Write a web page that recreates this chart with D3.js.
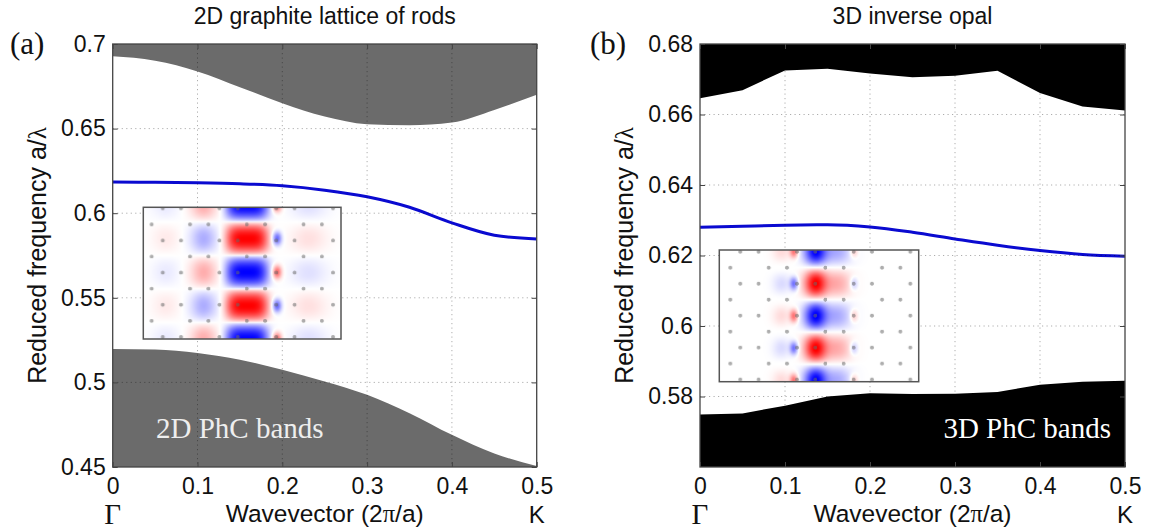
<!DOCTYPE html>
<html>
<head>
<meta charset="utf-8">
<script src="https://cdn.jsdelivr.net/npm/d3@7"></script>
<style>
  body { margin: 0; background: #fff; }
  svg { display: block; }
</style>
</head>
<body>
<svg id="fig" width="1150" height="529"></svg>
<script>
// Wavevector samples along Γ–K (units of 2π/a)
const wavevector = [0, 0.05, 0.1, 0.15, 0.2, 0.25, 0.3, 0.35, 0.4, 0.45, 0.5];
const xTicks = [0, 0.1, 0.2, 0.3, 0.4, 0.5];
const xTickLabels = ["0", "0.1", "0.2", "0.3", "0.4", "0.5"];

// (a) 2D graphite lattice of rods: band edges and the guided defect mode
const upperBand2D  = [0.6927, 0.6901, 0.6838, 0.6745, 0.6650, 0.6571, 0.6526, 0.6520, 0.6536, 0.6610, 0.6700];
const defectMode2D = [0.6184, 0.6183, 0.6180, 0.6174, 0.6162, 0.6136, 0.6097, 0.6035, 0.5943, 0.5870, 0.5848];
const lowerBand2D  = [0.5198, 0.5194, 0.5174, 0.5134, 0.5075, 0.5006, 0.4927, 0.4818, 0.4690, 0.4580, 0.4506];
const yTicks2D = [0.45, 0.5, 0.55, 0.6, 0.65, 0.7];
const yTickLabels2D = ["0.45", "0.5", "0.55", "0.6", "0.65", "0.7"];

// (b) 3D inverse opal: band edges and the guided defect mode
const upperBand3D  = [0.6646, 0.6669, 0.6725, 0.6730, 0.6716, 0.6706, 0.6710, 0.6724, 0.6661, 0.6623, 0.6611];
const defectMode3D = [0.6280, 0.6283, 0.6286, 0.6287, 0.6281, 0.6266, 0.6247, 0.6229, 0.6214, 0.6203, 0.6198];
const lowerBand3D  = [0.5749, 0.5752, 0.5774, 0.5800, 0.5809, 0.5807, 0.5808, 0.5813, 0.5833, 0.5842, 0.5845];
const yTicks3D = [0.58, 0.6, 0.62, 0.64, 0.66, 0.68];
const yTickLabels3D = ["0.58", "0.6", "0.62", "0.64", "0.66", "0.68"];

const SANS = "'Liberation Sans', Arial, sans-serif";
const SERIF = "'Liberation Serif', 'Times New Roman', serif";

const panels = [
  {
    tag: "(a)", tagX: 10, title: "2D graphite lattice of rods",
    left: 112.7, right: 536.7, top: 44, bottom: 467,
    yDomain: [0.45, 0.7], yTicks: yTicks2D, yLabels: yTickLabels2D,
    upper: upperBand2D, mode: defectMode2D, lower: lowerBand2D,
    bandFill: "#6b6b6b", curve: d3.curveMonotoneX,
    bandText: "2D PhC bands", bandTextX: 156, bandTextAnchor: "start", bandTextFill: "#eeeeee",
    yLabelX: 46,
    inset: {
      x: 143.3, y: 207.3, w: 197.7, h: 131.7,
      // field lobes across the guide: [centre, amplitude, width, exponent, vertical sharpness]
      lobes: [[103.4, 1.0, 21, 4, 0.8], [60, -0.32, 13, 2, 0.9], [133.4, -0.6, 4.5, 2, 5],
              [165, 0.12, 18, 2, 1], [22, 0.08, 14, 2, 1]],
      redY: 31, halfPeriod: 33.5,
      rowY0: 1, rowStep: 16.05, firstRowB: true,
      rowA: 46.7, rowB: 19.4
    }
  },
  {
    tag: "(b)", tagX: 590, title: "3D inverse opal",
    left: 700, right: 1125, top: 44, bottom: 467,
    yDomain: [0.56, 0.68], yTicks: yTicks3D, yLabels: yTickLabels3D,
    upper: upperBand3D, mode: defectMode3D, lower: lowerBand3D,
    bandFill: "#000000", curve: d3.curveLinear,
    bandText: "3D PhC bands", bandTextX: 1111, bandTextAnchor: "end", bandTextFill: "#ffffff",
    yLabelX: 633,
    inset: {
      x: 719.3, y: 250, w: 199.4, h: 131.7,
      lobes: [[96, 1.0, 11, 2, 1.0], [118, 0.32, 14, 2, 1.0], [74.4, -0.55, 4, 2, 5],
              [62, -0.14, 9, 2, 2], [134.4, -0.25, 4, 2, 5]],
      redY: 33.3, halfPeriod: 32.2,
      rowY0: 1.7, rowStep: 15.95, firstRowB: false,
      rowA: 21, rowB: 49.4
    }
  }
];

const svg = d3.select("#fig");

// diverging blue-white-red map for the mode field
const fieldColour = d3.scaleLinear()
  .domain([-1, 0, 1])
  .range([[0, 0, 255], [255, 255, 255], [255, 0, 0]])
  .clamp(true);

function fieldImage(ins) {
  const k = 2;
  const W = Math.round(ins.w * k), H = Math.round(ins.h * k);
  const cv = document.createElement("canvas");
  cv.width = W; cv.height = H;
  const ctx = cv.getContext("2d");
  const img = ctx.createImageData(W, H);
  for (let j = 0; j < H; j++) {
    const yy = j / k;
    const c = Math.cos(Math.PI * (yy - ins.redY) / ins.halfPeriod);
    for (let i = 0; i < W; i++) {
      const xx = i / k;
      let v = 0;
      for (const [cx, a, w, p, vp] of ins.lobes) {
        const s = Math.sign(c) * Math.pow(Math.abs(c), vp);
        v += a * s * Math.exp(-Math.pow(Math.abs(xx - cx) / w, p));
      }
      const rgb = fieldColour(v);
      const o = (j * W + i) * 4;
      img.data[o] = rgb[0]; img.data[o + 1] = rgb[1]; img.data[o + 2] = rgb[2]; img.data[o + 3] = 255;
    }
  }
  ctx.putImageData(img, 0, 0);
  // rods of the honeycomb lattice
  const period = 56.7, bond = 18.3;
  ctx.fillStyle = "rgba(105,105,105,0.55)";
  let row = 0;
  for (let yy = ins.rowY0; yy < ins.h + 1; yy += ins.rowStep, row++) {
    const isB = (row % 2 === 0) === ins.firstRowB;
    const start = isB ? ins.rowB : ins.rowA;
    for (let base = start - 3 * period; base < ins.w + period; base += period) {
      for (const xx of [base, base + bond]) {
        if (xx < 1 || xx > ins.w - 1) continue;
        ctx.beginPath();
        ctx.arc(xx * k, yy * k, 1.9 * k, 0, 2 * Math.PI);
        ctx.fill();
      }
    }
  }
  return cv.toDataURL();
}

panels.forEach((P, pi) => {
  const x = d3.scaleLinear().domain([0, 0.5]).range([P.left, P.right]);
  const y = d3.scaleLinear().domain(P.yDomain).range([P.bottom, P.top]);
  const g = svg.append("g");

  const clipId = "clip" + pi;
  g.append("clipPath").attr("id", clipId)
    .append("rect").attr("x", P.left).attr("y", P.top)
    .attr("width", P.right - P.left).attr("height", P.bottom - P.top);

  const plot = g.append("g").attr("clip-path", `url(#${clipId})`);
  const pts = (arr) => wavevector.map((k, i) => [k, arr[i]]);

  // photonic band regions above and below the gap
  plot.append("path")
    .datum(pts(P.upper))
    .attr("fill", P.bandFill)
    .attr("d", d3.area().curve(P.curve)
      .x(d => x(d[0])).y0(y(P.yDomain[1])).y1(d => y(d[1])));
  plot.append("path")
    .datum(pts(P.lower))
    .attr("fill", P.bandFill)
    .attr("d", d3.area().curve(P.curve)
      .x(d => x(d[0])).y0(y(P.yDomain[0])).y1(d => y(d[1])));

  // dotted grid
  const grid = g.append("g").attr("stroke", "rgba(0,0,0,0.32)")
    .attr("stroke-width", 1).attr("stroke-dasharray", "1.2,3.3");
  grid.selectAll("line.gx").data(xTicks.slice(1, -1)).join("line")
    .attr("x1", d => x(d)).attr("x2", d => x(d))
    .attr("y1", P.top).attr("y2", P.bottom);
  grid.selectAll("line.gy").data(P.yTicks.filter(v => v > P.yDomain[0] && v < P.yDomain[1])).join("line")
    .attr("x1", P.left).attr("x2", P.right)
    .attr("y1", d => y(d)).attr("y2", d => y(d));

  // defect-mode dispersion
  plot.append("path")
    .datum(pts(P.mode))
    .attr("fill", "none")
    .attr("stroke", "#0a0ad0")
    .attr("stroke-width", 3)
    .attr("d", d3.line().curve(d3.curveMonotoneX).x(d => x(d[0])).y(d => y(d[1])));

  // field-profile inset
  const ins = P.inset;
  g.append("rect").attr("x", ins.x).attr("y", ins.y).attr("width", ins.w).attr("height", ins.h)
    .attr("fill", "#fff");
  g.append("image").attr("x", ins.x).attr("y", ins.y).attr("width", ins.w).attr("height", ins.h)
    .attr("preserveAspectRatio", "none")
    .attr("href", fieldImage(ins));
  g.append("rect").attr("x", ins.x).attr("y", ins.y).attr("width", ins.w).attr("height", ins.h)
    .attr("fill", "none").attr("stroke", "#555").attr("stroke-width", 1.5);

  // band label
  g.append("text")
    .attr("x", P.bandTextX).attr("y", 438)
    .attr("text-anchor", P.bandTextAnchor)
    .attr("font-family", SERIF).attr("font-size", 29)
    .attr("fill", P.bandTextFill)
    .text(P.bandText);

  // axes with inward ticks on all four sides
  const bottomAxis = d3.axisBottom(x).tickValues(xTicks)
    .tickFormat((d, i) => xTickLabels[i]).tickSizeInner(-5).tickSizeOuter(0).tickPadding(11);
  const leftAxis = d3.axisLeft(y).tickValues(P.yTicks)
    .tickFormat((d, i) => P.yLabels[i]).tickSizeInner(-5).tickSizeOuter(0).tickPadding(7);
  const topAxis = d3.axisTop(x).tickValues(xTicks).tickFormat("").tickSizeInner(-5).tickSizeOuter(0);
  const rightAxis = d3.axisRight(y).tickValues(P.yTicks).tickFormat("").tickSizeInner(-5).tickSizeOuter(0);

  const styleAxis = sel => {
    sel.select(".domain").remove();
    sel.selectAll(".tick line").attr("stroke", "#444");
    sel.selectAll(".tick text").attr("fill", "#111")
      .attr("font-family", SANS).attr("font-size", 23);
  };
  g.append("g").attr("transform", `translate(0,${P.bottom})`).call(bottomAxis).call(styleAxis);
  g.append("g").attr("transform", `translate(${P.left},0)`).call(leftAxis).call(styleAxis);
  g.append("g").attr("transform", `translate(0,${P.top})`).call(topAxis).call(styleAxis);
  g.append("g").attr("transform", `translate(${P.right},0)`).call(rightAxis).call(styleAxis);

  // plot frame
  g.append("rect").attr("x", P.left).attr("y", P.top)
    .attr("width", P.right - P.left).attr("height", P.bottom - P.top)
    .attr("fill", "none").attr("stroke", "#444").attr("stroke-width", 1.3);

  // symmetry points
  g.append("text").attr("x", x(0)).attr("y", 524).attr("text-anchor", "middle")
    .attr("font-family", SERIF).attr("font-size", 29).attr("fill", "#111").text("Γ");
  g.append("text").attr("x", x(0.5)).attr("y", 523).attr("text-anchor", "middle")
    .attr("font-family", SANS).attr("font-size", 24).attr("fill", "#111").text("K");

  // axis titles
  const xl = g.append("text").attr("x", (P.left + P.right) / 2).attr("y", 522)
    .attr("text-anchor", "middle").attr("font-family", SANS).attr("font-size", 24.5).attr("fill", "#111");
  xl.append("tspan").text("Wavevector (2");
  xl.append("tspan").attr("font-family", SERIF).text("π");
  xl.append("tspan").text("/a)");

  const yl = g.append("text")
    .attr("transform", `translate(${P.yLabelX},${(P.top + P.bottom) / 2}) rotate(-90)`)
    .attr("text-anchor", "middle").attr("font-family", SANS).attr("font-size", 25).attr("fill", "#111");
  yl.append("tspan").text("Reduced frequency a/");
  yl.append("tspan").attr("font-family", SERIF).text("λ");

  // panel title and tag
  g.append("text").attr("x", (P.left + P.right) / 2).attr("y", 24)
    .attr("text-anchor", "middle").attr("font-family", SANS).attr("font-size", 23).attr("fill", "#111")
    .text(P.title);
  g.append("text").attr("x", P.tagX).attr("y", 54)
    .attr("font-family", SERIF).attr("font-size", 31).attr("fill", "#111")
    .text(P.tag);
});
</script>
</body>
</html>
